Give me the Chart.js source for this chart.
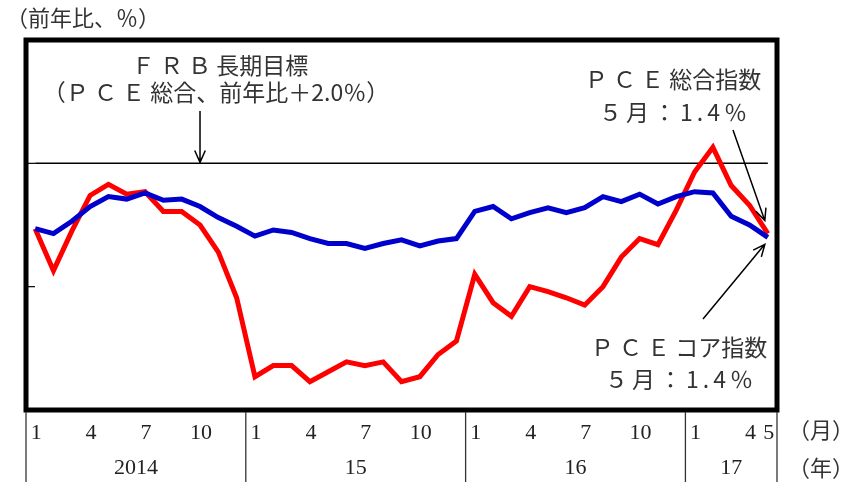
<!DOCTYPE html>
<html>
<head>
<meta charset="utf-8">
<script src="https://cdn.jsdelivr.net/npm/chart.js@4/dist/chart.umd.min.js"></script>
<style>
  body { margin: 0; background: #fff; }
  canvas { display: block; }
</style>
</head>
<body>
<canvas id="pceChart" width="865" height="482"></canvas>
<script>
// months Jan 2014 - May 2017
const months = [1,2,3,4,5,6,7,8,9,10,11,12,
                1,2,3,4,5,6,7,8,9,10,11,12,
                1,2,3,4,5,6,7,8,9,10,11,12,
                1,2,3,4,5];
const years = ['2014', '15', '16', '17'];
const yTicks = [1, 2];

// PCE総合指数 (前年比、%)
const pceTotal = [1.47, 1.13, 1.45, 1.74, 1.83, 1.75, 1.77, 1.61, 1.61, 1.50, 1.28, 0.91,
                  0.27, 0.36, 0.36, 0.23, 0.31, 0.39, 0.36, 0.39, 0.23, 0.27, 0.45, 0.56,
                  1.10, 0.87, 0.76, 1.00, 0.96, 0.91, 0.85, 1.00, 1.24, 1.39, 1.34, 1.62,
                  1.93, 2.13, 1.82, 1.66, 1.43];
// PCEコア指数
const pceCore = [1.47, 1.43, 1.53, 1.65, 1.73, 1.71, 1.76, 1.70, 1.71, 1.65, 1.56, 1.49,
                 1.41, 1.46, 1.44, 1.39, 1.35, 1.35, 1.31, 1.35, 1.38, 1.33, 1.37, 1.39,
                 1.61, 1.65, 1.55, 1.60, 1.64, 1.60, 1.64, 1.73, 1.69, 1.75, 1.67, 1.73,
                 1.77, 1.76, 1.57, 1.50, 1.40];
const frbTarget = 2.0;

const JP = '"Noto Sans CJK JP", sans-serif';
const NUM = '"Liberation Serif", "DejaVu Serif", serif';

function arrow(ctx, x1, y1, x2, y2) {
  const a = Math.atan2(y2 - y1, x2 - x1);
  const h = 13, s = 0.42;
  ctx.beginPath();
  ctx.moveTo(x1, y1);
  ctx.lineTo(x2, y2);
  ctx.moveTo(x2 - h * Math.cos(a - s), y2 - h * Math.sin(a - s));
  ctx.lineTo(x2, y2);
  ctx.lineTo(x2 - h * Math.cos(a + s), y2 - h * Math.sin(a + s));
  ctx.stroke();
}

const decorations = {
  id: 'decorations',
  afterDatasetsDraw(chart) {
    const ctx = chart.ctx;
    const area = chart.chartArea;
    const x = chart.scales.x;
    const y = chart.scales.y;
    ctx.save();
    ctx.fillStyle = '#222';
    ctx.strokeStyle = '#000';

    // small ticks on the left
    ctx.lineWidth = 1.2;
    yTicks.forEach(v => {
      const py = y.getPixelForValue(v);
      ctx.beginPath();
      ctx.moveTo(area.left, py);
      ctx.lineTo(area.left + 9, py);
      ctx.stroke();
    });

    // frame
    ctx.lineWidth = 5;
    ctx.strokeRect(area.left, area.top, area.right - area.left, area.bottom - area.top);

    // month labels
    ctx.font = '22px ' + NUM;
    ctx.textAlign = 'center';
    ctx.textBaseline = 'middle';
    months.forEach((m, i) => {
      if (m % 3 === 1 || i === months.length - 1) {
        ctx.fillText(String(m), x.getPixelForValue(i) + 1, 433);
      }
    });

    // year separators and labels
    const starts = [];
    months.forEach((m, i) => { if (m === 1) starts.push(i); });
    const seps = starts.map(i => i === 0 ? area.left : (x.getPixelForValue(i - 1) + x.getPixelForValue(i)) / 2);
    seps.push(area.right);
    ctx.lineWidth = 1.3;
    ctx.strokeStyle = '#333';
    seps.forEach(sx => {
      ctx.beginPath();
      ctx.moveTo(sx, area.bottom + 2);
      ctx.lineTo(sx, 482);
      ctx.stroke();
    });
    years.forEach((label, k) => {
      ctx.fillText(label, (seps[k] + seps[k + 1]) / 2, 468);
    });

    // texts
    ctx.font = '22px ' + JP;
    ctx.fillStyle = '#333';
    ctx.textAlign = 'left';
    ctx.fillText('（前年比、％）', 6, 18);
    ctx.fillText('（月）', 788, 430);
    ctx.fillText('（年）', 788, 468);

    ctx.font = '23px ' + JP;
    ctx.textAlign = 'center';
    ctx.fillText('Ｆ Ｒ Ｂ 長期目標', 220, 65);
    ctx.fillText('（Ｐ Ｃ Ｅ 総合、前年比＋2.0％）', 216, 92);
    ctx.fillText('Ｐ Ｃ Ｅ 総合指数', 673, 79);
    ctx.fillText('Ｐ Ｃ Ｅ コア指数', 679, 347);
    ctx.letterSpacing = '4px';
    ctx.fillText('５月：1.4％', 675, 112);
    ctx.fillText('５月：1.4％', 681, 379);
    ctx.letterSpacing = '0px';

    // arrows
    ctx.strokeStyle = '#000';
    ctx.lineWidth = 1.5;
    const xFrb = x.getPixelForValue(9);
    arrow(ctx, xFrb, 111, xFrb, y.getPixelForValue(frbTarget) - 1);
    const last = months.length - 1;
    const xl = x.getPixelForValue(last);
    arrow(ctx, 733, 130, xl - 3, y.getPixelForValue(pceTotal[last]) - 13);
    arrow(ctx, 703, 319, xl - 3, y.getPixelForValue(pceCore[last]) + 7);
    ctx.restore();
  }
};

new Chart(document.getElementById('pceChart').getContext('2d'), {
  type: 'line',
  data: {
    labels: months,
    datasets: [
      {
        label: 'PCEコア指数',
        data: pceCore,
        borderColor: '#0000cc',
        borderWidth: 5,
        pointRadius: 0,
        tension: 0,
        order: 0
      },
      {
        label: 'PCE総合指数',
        data: pceTotal,
        borderColor: '#ff0000',
        borderWidth: 5,
        pointRadius: 0,
        tension: 0,
        order: 1
      },
      {
        label: 'FRB長期目標',
        data: months.map(() => frbTarget),
        borderColor: '#000',
        borderWidth: 1.5,
        pointRadius: 0,
        order: 2
      }
    ]
  },
  options: {
    responsive: false,
    animation: false,
    layout: { padding: { left: 26, right: 88, top: 40, bottom: 72 } },
    scales: {
      x: { type: 'category', offset: true, display: false },
      y: { min: 0, max: 3, display: false }
    },
    plugins: {
      legend: { display: false },
      tooltip: { enabled: false }
    }
  },
  plugins: [decorations]
});
</script>
</body>
</html>
